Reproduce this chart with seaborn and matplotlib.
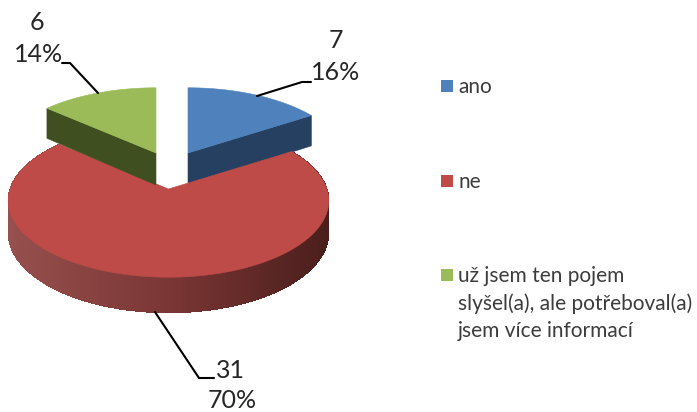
import numpy as np
import matplotlib
matplotlib.use("Agg")
import matplotlib.pyplot as plt
import seaborn as sns

categories = ["ano", "ne", "už jsem ten pojem\nslyšel(a), ale potřeboval(a)\njsem více informací"]
values = [7, 31, 6]
top_colors = ["#4F81BD", "#BE4B48", "#9BBB59"]
cut_colors = ["#254061", "#7A3230", "#3F4F20"]
red_side = ["#96504E", "#7A3634", "#4A1E1C"]

sns.set_theme(style="white")
plt.rcParams["font.family"] = ["Lato", "DejaVu Sans"]
W, H = 697, 412
fig = plt.figure(figsize=(W / 100, H / 100), dpi=100, facecolor="white")
ax = fig.add_axes([0, 0, 1, 1])
ax.set_xlim(0, W)
ax.set_ylim(H, 0)
ax.axis("off")

RX, RY, K, DEPTH, DK = 158.5, 75.0, 0.15, 32.0, 0.10
apexes = [(188, 153), (168.5, 189), (156, 153)]
pal = sns.color_palette(top_colors)
cuts = sns.color_palette(cut_colors)


def project(theta, apex):
    """Perspective projection of a disc point (theta clockwise from the back)."""
    u, v = np.sin(theta), np.cos(theta)
    d = 1 + K * v
    return apex[0] + RX * u / d, apex[1] - RY * v / d


def drop(theta):
    return DEPTH / (1 + DK * np.cos(theta))


fractions = np.array(values) / sum(values)
edges = np.concatenate([[0], np.cumsum(fractions)]) * 2 * np.pi


def top_face(i):
    th = np.linspace(edges[i], edges[i + 1], 160)
    x, y = project(th, apexes[i])
    ax.fill(np.r_[apexes[i][0], x], np.r_[apexes[i][1], y], color=pal[i], lw=0.4, zorder=3 + i)


def cut_face(i, theta):
    x, y = project(theta, apexes[i])
    d0, d1 = DEPTH, drop(theta)
    ax.fill([apexes[i][0], x, x, apexes[i][0]],
            [apexes[i][1], y, y + d1, apexes[i][1] + d0],
            color=cuts[i], lw=0.4, zorder=3 + i)


# the large slice: shaded rim (strips overlap so no seams show), then the top surface
n = 220
th = np.linspace(edges[1], edges[2], n + 1)
xs, ys = project(th, apexes[1])
dr = drop(th)
ramp = sns.blend_palette(red_side, 101)
xmin, xmax = xs.min(), xs.max()
for j in range(n):
    k = min(j + 2, n)
    t = ((xs[j] + xs[j + 1]) / 2 - xmin) / (xmax - xmin)
    c = ramp[int(round(t * 100))]
    ax.fill([xs[j], xs[k], xs[k], xs[j]],
            [ys[j], ys[k], ys[k] + dr[k], ys[j] + dr[j]],
            facecolor=c, edgecolor="none", antialiased=False, zorder=1)
top_face(1)

# the two pulled-out slices
cut_face(0, edges[1])
top_face(0)
cut_face(2, edges[2])
top_face(2)

# leader lines
leaders = [([257, 302, 311], [96, 82, 82]),
           ([155, 199, 214], [312, 378, 378]),
           ([98, 70, 62], [93, 63, 63])]
for lx, ly in leaders:
    ax.plot(lx, ly, color="black", lw=1.5, zorder=8, solid_joinstyle="miter")

# data labels
label_pos = [(336, 40, 336, 72), (230, 371, 232, 400), (37, 22, 39, 54)]
for v, f, (x1, y1, x2, y2) in zip(values, fractions, label_pos):
    ax.text(x1, y1, str(v), ha="center", va="center", fontsize=18, color="#262626")
    ax.text(x2, y2, f"{f * 100:.0f}%", ha="center", va="center", fontsize=18, color="#262626")

# legend
legend_y = [86, 181, 275]
for lab, c, y in zip(categories, pal, legend_y):
    ax.add_patch(plt.Rectangle((441, y - 6), 12, 12, color=c, lw=0, zorder=5))
    ax.text(458, y - 9.5, lab, ha="left", va="top", fontsize=15, color="#3c3c3c", linespacing=1.47)

fig.savefig("out.png", dpi=100, facecolor="white")
